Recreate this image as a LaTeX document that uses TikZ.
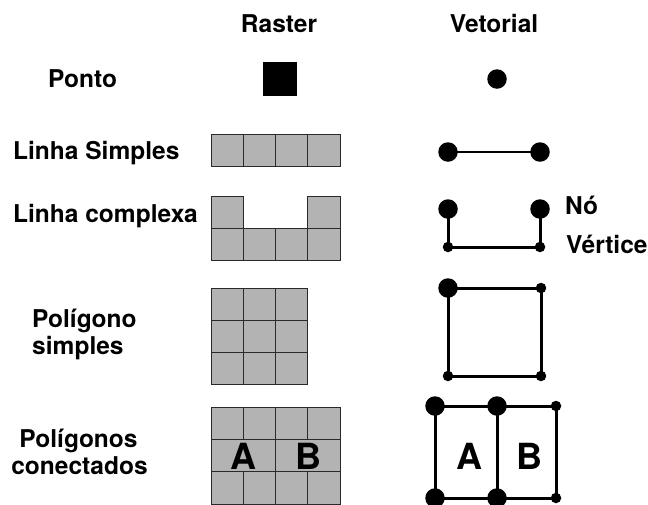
\documentclass[tikz,border=0pt]{standalone}
\usepackage{fontspec}
\setmainfont{TeX Gyre Heros}
\definecolor{cellgray}{HTML}{B3B3B3}
\definecolor{celledge}{HTML}{2A2A2A}
\begin{document}
\begin{tikzpicture}[x=1pt,y=-1pt,
  lbl/.style={font=\fontsize{24.5}{27}\selectfont\bfseries, inner sep=0pt},
  letter/.style={font=\fontsize{36}{40}\selectfont\bfseries, inner sep=0pt, anchor=base},
  cell/.style={fill=cellgray, draw=celledge, line width=1pt},
  bigdot/.style={circle, fill=black, minimum size=19.5pt, inner sep=0pt},
  smalldot/.style={circle, fill=black, minimum size=10.5pt, inner sep=0pt},
  vline/.style={line width=3pt, line join=round}]
\useasboundingbox (0,0) rectangle (648,504);

% column headers
\node[lbl, anchor=base] (hraster) at (279,32) {Raster};
\node[lbl, anchor=base] (hvet) at (494,32) {Vetorial};

% row labels
\node[lbl, anchor=base west] (lponto) at (48,87) {Ponto};
\node[lbl, anchor=base west] (llinha) at (13,159) {Linha Simples};
\node[lbl, anchor=base west] (lcomp) at (13,222) {Linha complexa};
\node[lbl, anchor=base west] (lpol1) at (32,327) {Polígono};
\node[lbl, anchor=base west] (lpol2) at (32,354) {simples};
\node[lbl, anchor=base] (lcon1) at (78.5,447) {Polígonos};
\node[lbl, anchor=base] (lcon2) at (79.5,474) {conectados};

% ---- raster column ----
% point
\fill[black] (263,62) rectangle (297,96);
% simple line
\foreach \i in {0,...,3}
  \draw[cell] (211+\i*32.25,134) rectangle ++(32.25,32);
% complex line
\draw[cell] (211,196) rectangle ++(32.25,32);
\draw[cell] (307.75,196) rectangle ++(32.25,32);
\foreach \i in {0,...,3}
  \draw[cell] (211+\i*32.25,228) rectangle ++(32.25,32);
% simple polygon
\foreach \i in {0,...,2}
  \foreach \j in {0,...,2}
    \draw[cell] (211+\i*32.3,288+\j*32.3) rectangle ++(32.3,32.3);
% connected polygons
\foreach \i in {0,...,3}{
  \draw[cell] (211+\i*32.25,407) rectangle ++(32.25,32.3);
  \draw[cell] (211+\i*32.25,471.6) rectangle ++(32.25,32.4);
}
\draw[cell] (211,439.3) rectangle (275.5,471.6);
\draw[cell] (275.5,439.3) rectangle (340,471.6);
\node[letter] (ra) at (243.5,469) {A};
\node[letter] (rb) at (308,469) {B};

% ---- vector column ----
% point
\node[bigdot] (p0) at (497,79) {};
% simple line
\node[bigdot] (s1) at (448,152) {};
\node[bigdot] (s2) at (540,152) {};
\draw[line width=2.6pt] (s1.center) -- (s2.center);
% complex line: nodes on top, vertices below
\node[bigdot] (c1) at (448,209) {};
\node[bigdot] (c2) at (540,209) {};
\node[smalldot] (c3) at (448,247) {};
\node[smalldot] (c4) at (540,247) {};
\draw[vline] (c1.center) -- (c3.center) -- (c4.center) -- (c2.center);
\node[lbl, anchor=base west] (lno) at (565,214) {Nó};
\node[lbl, anchor=base west] (lvert) at (566,253) {Vértice};
% simple polygon
\node[bigdot] (q1) at (448,288) {};
\node[smalldot] (q2) at (541,288) {};
\node[smalldot] (q3) at (541,376) {};
\node[smalldot] (q4) at (448,376) {};
\draw[vline] (q1.center) -- (q2.center) -- (q3.center) -- (q4.center) -- cycle;
% connected polygons
\node[bigdot] (r1) at (435,406) {};
\node[bigdot] (r2) at (497,406) {};
\node[smalldot] (r3) at (556,406) {};
\node[bigdot] (r4) at (435,498) {};
\node[bigdot] (r5) at (497,498) {};
\node[smalldot] (r6) at (556,498) {};
\draw[vline] (r1.center) -- (r3.center) -- (r6.center) -- (r4.center) -- cycle;
\draw[vline] (r2.center) -- (r5.center);
\node[letter] (va) at (469.5,469) {A};
\node[letter] (vb) at (529.5,469) {B};
\end{tikzpicture}
\end{document}
